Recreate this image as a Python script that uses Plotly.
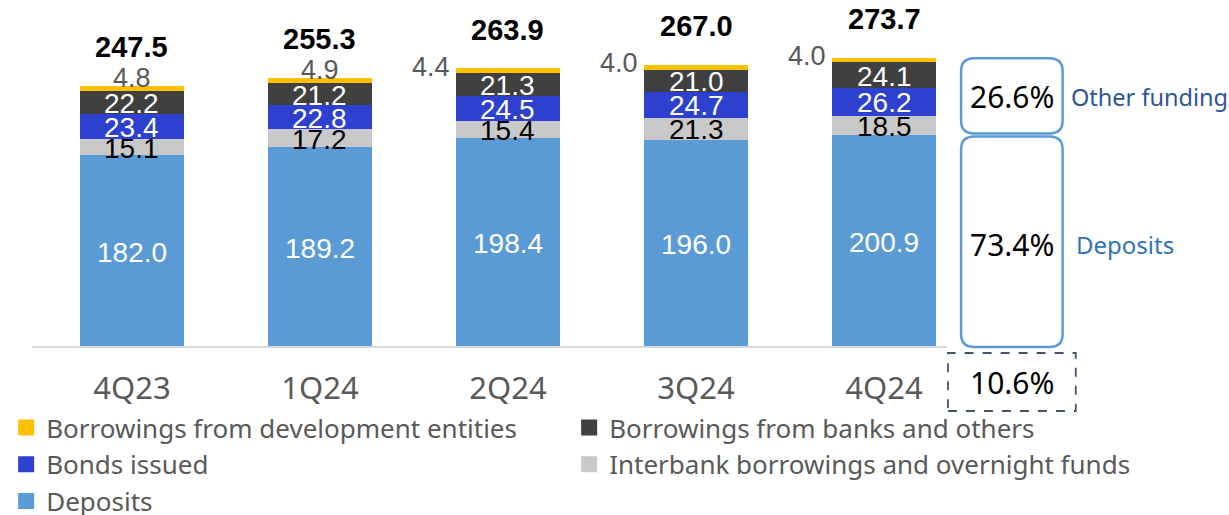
import plotly.graph_objects as go

# Funding structure by quarter (COP trillions)
quarters = ["4Q23", "1Q24", "2Q24", "3Q24", "4Q24"]
deposits = [182.0, 189.2, 198.4, 196.0, 200.9]
interbank = [15.1, 17.2, 15.4, 21.3, 18.5]
bonds = [23.4, 22.8, 24.5, 24.7, 26.2]
bank_borrowings = [22.2, 21.2, 21.3, 21.0, 24.1]
dev_borrowings = [4.8, 4.9, 4.4, 4.0, 4.0]
totals = [247.5, 255.3, 263.9, 267.0, 273.7]

series_names = [
    "Deposits",
    "Interbank borrowings and overnight funds",
    "Bonds issued",
    "Borrowings from banks and others",
    "Borrowings from development entities",
]
series_values = [deposits, interbank, bonds, bank_borrowings, dev_borrowings]
series_colors = ["#5B9BD5", "#C9C9C9", "#2D40CF", "#404040", "#FFC000"]
label_colors = ["white", "black", "white", "white", "#595959"]

# ---- geometry -------------------------------------------------------------
W, H = 1229, 515
PLOT_H = 347                      # baseline sits at the bottom of the plot area
PX_PER_UNIT = 1.055
Y_MAX = PLOT_H / PX_PER_UNIT
X_RANGE = [-0.702, 5.835]

NUM_FONT = "Liberation Sans, Arial, sans-serif"
TXT_FONT = "Noto Sans, sans-serif"
GREY = "#595959"


def xp(v):
    return (v - X_RANGE[0]) / (X_RANGE[1] - X_RANGE[0])


def yp(v):
    return v / Y_MAX


def rounded_rect(x0, y0, x1, y1, r_px):
    rx, ry = r_px / W, r_px / PLOT_H
    return (
        f"M {x0 + rx},{y0} L {x1 - rx},{y0} Q {x1},{y0} {x1},{y0 + ry} "
        f"L {x1},{y1 - ry} Q {x1},{y1} {x1 - rx},{y1} "
        f"L {x0 + rx},{y1} Q {x0},{y1} {x0},{y1 - ry} "
        f"L {x0},{y0 + ry} Q {x0},{y0} {x0 + rx},{y0} Z"
    )


fig = go.Figure()

# stacked bars
for name, vals, color in zip(series_names, series_values, series_colors):
    fig.add_trace(go.Bar(
        x=quarters, y=vals, name=name, marker_color=color,
        marker_line_width=0, showlegend=False, hoverinfo="x+y+name",
    ))

# legend swatches
legend_order = [4, 3, 2, 1, 0]
for rank, k in enumerate(legend_order):
    fig.add_trace(go.Scatter(
        x=[None], y=[None], mode="markers", name=series_names[k],
        marker=dict(symbol="square", size=16, color=series_colors[k]),
        legendrank=rank + 1, showlegend=True,
    ))

annotations = []
LEFT_PLACED = {"2Q24", "3Q24", "4Q24"}
for i, q in enumerate(quarters):
    base = 0.0
    for k, vals in enumerate(series_values):
        v = vals[i]
        mid = base + v / 2
        if k < 4:
            annotations.append(dict(
                x=q, y=mid, text=f"{v:.1f}", showarrow=False,
                font=dict(family=NUM_FONT, size=28, color=label_colors[k]),
                yshift=-1,
            ))
        else:
            if q in LEFT_PLACED:
                annotations.append(dict(
                    x=i - 0.553 / 2, y=mid, text=f"{v:.1f}", showarrow=False,
                    xanchor="right", xshift=-4, yshift=4,
                    font=dict(family=NUM_FONT, size=27, color=label_colors[k]),
                ))
            else:
                annotations.append(dict(
                    x=q, y=base + v, text=f"{v:.1f}", showarrow=False,
                    yshift=8,
                    font=dict(family=NUM_FONT, size=27, color=label_colors[k]),
                ))
        base += v
    annotations.append(dict(
        x=q, y=totals[i], text=f"<b>{totals[i]:.1f}</b>", showarrow=False,
        yshift=39, font=dict(family=NUM_FONT, size=29, color="black"),
    ))

# composition of the latest quarter and year-on-year growth
last = len(quarters) - 1
dep_share = deposits[last] / totals[last] * 100
other_share = 100 - dep_share
yoy = (totals[last] / totals[last - 4] - 1) * 100

BOX_X, BOX_W = 4.68, 0.54
gap = 1.5 / PX_PER_UNIT
shapes = [
    # category baseline
    dict(type="line", xref="paper", yref="paper",
         x0=32 / W, x1=947 / W, y0=0, y1=0,
         line=dict(color="#D9D9D9", width=2)),
    dict(type="path", xref="paper", yref="paper",
         path=rounded_rect(xp(BOX_X - BOX_W / 2), yp(deposits[last] + gap),
                           xp(BOX_X + BOX_W / 2), yp(totals[last]), 13),
         line=dict(color="#5B9BD5", width=2.5)),
    dict(type="path", xref="paper", yref="paper",
         path=rounded_rect(xp(BOX_X - BOX_W / 2), yp(0),
                           xp(BOX_X + BOX_W / 2), yp(deposits[last] - gap), 13),
         line=dict(color="#5B9BD5", width=2.5)),
    dict(type="rect", xref="paper", yref="paper",
         x0=xp(BOX_X - 0.34), x1=xp(BOX_X + 0.34),
         y0=-64 / PLOT_H, y1=-6 / PLOT_H,
         line=dict(color="#44546A", width=1.8, dash="dash")),
]

annotations += [
    dict(x=BOX_X, y=(deposits[last] + totals[last]) / 2, text=f"{other_share:.1f}%",
         showarrow=False, font=dict(family=TXT_FONT, size=30, color="black")),
    dict(x=BOX_X, y=deposits[last] / 2, text=f"{dep_share:.1f}%", yshift=-3,
         showarrow=False, font=dict(family=TXT_FONT, size=30, color="black")),
    dict(x=BOX_X + BOX_W / 2, y=(deposits[last] + totals[last]) / 2, text="Other funding",
         xanchor="left", xshift=6, showarrow=False,
         font=dict(family=TXT_FONT, size=23.5, color="#2F5597")),
    dict(x=BOX_X + BOX_W / 2, y=deposits[last] / 2, text="Deposits", yshift=-3,
         xanchor="left", xshift=11, showarrow=False,
         font=dict(family=TXT_FONT, size=24, color="#2E75B6")),
    dict(x=xp(BOX_X), xref="paper", y=-35 / PLOT_H, yref="paper", text=f"{yoy:.1f}%",
         xanchor="center", yanchor="middle",
         showarrow=False, font=dict(family=TXT_FONT, size=30, color="black")),
]

fig.update_layout(
    width=W, height=H,
    margin=dict(l=0, r=0, t=0, b=H - PLOT_H, pad=0, autoexpand=False),
    barmode="stack", bargap=0.447,
    plot_bgcolor="white", paper_bgcolor="white",
    xaxis=dict(range=X_RANGE, showgrid=False, zeroline=False, showline=False,
               ticks="", ticklabelstandoff=20,
               tickfont=dict(family=TXT_FONT, size=31, color=GREY)),
    yaxis=dict(range=[0, Y_MAX], visible=False, showgrid=False, zeroline=False),
    legend=dict(orientation="h", traceorder="normal",
                x=0.005, xanchor="left", xref="container",
                y=1 - 404 / H, yanchor="top", yref="container",
                entrywidth=518, tracegroupgap=0, itemwidth=30,
                font=dict(family=TXT_FONT, size=26, color=GREY),
                bgcolor="rgba(0,0,0,0)"),
    shapes=shapes, annotations=annotations,
    showlegend=True,
)

fig.write_html("out.html")
